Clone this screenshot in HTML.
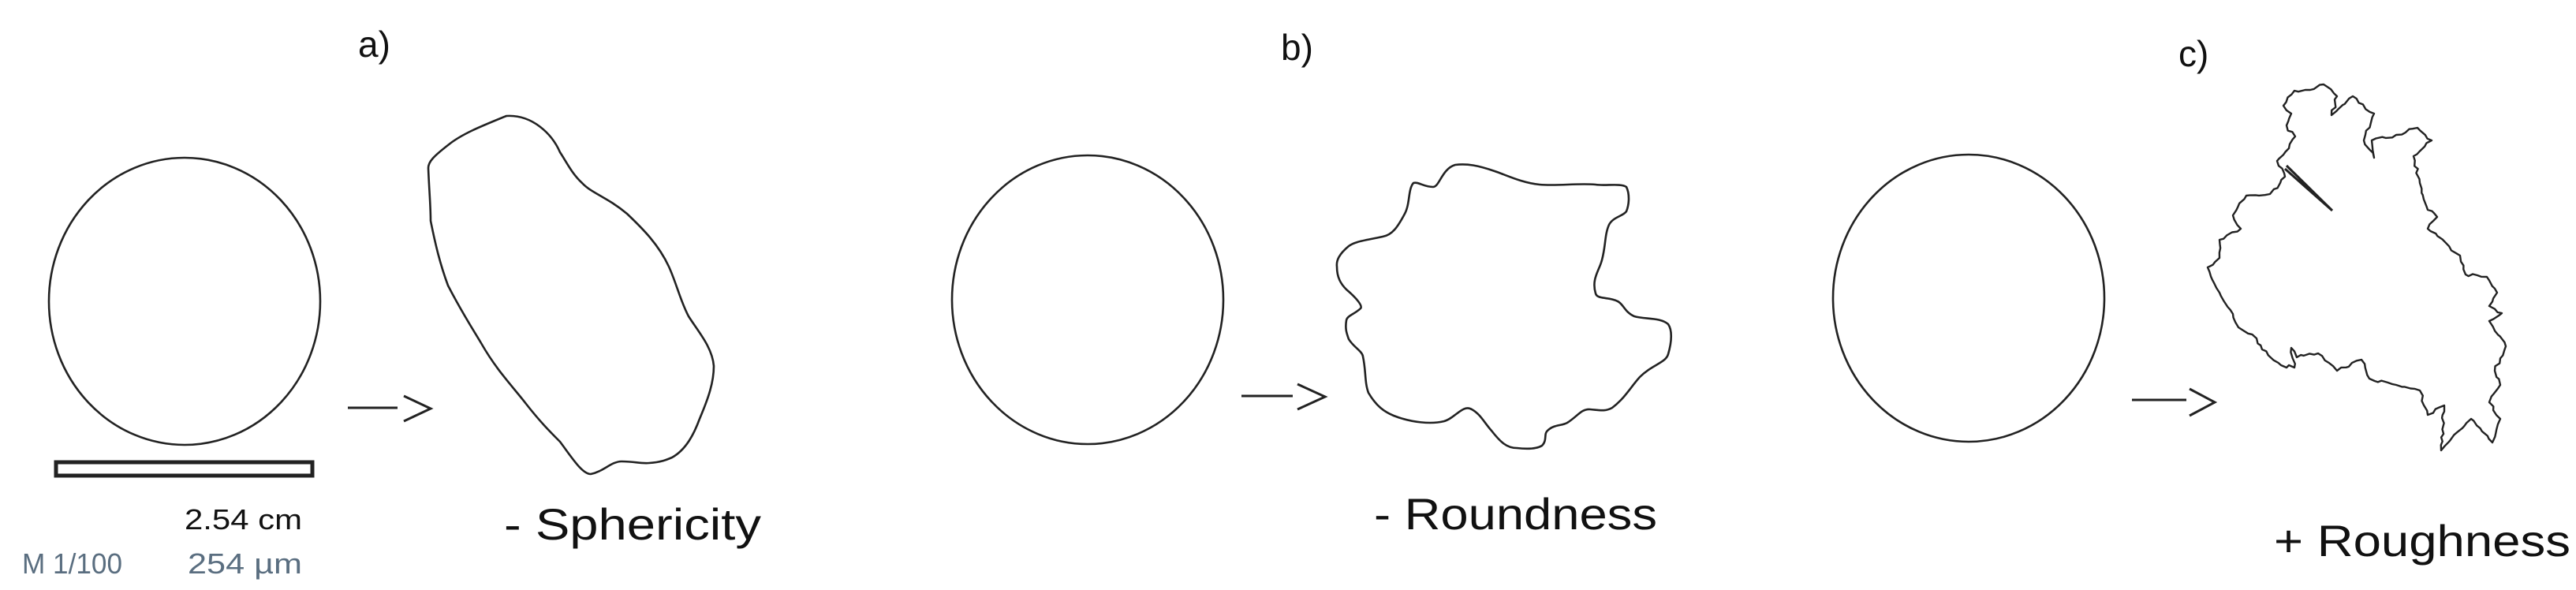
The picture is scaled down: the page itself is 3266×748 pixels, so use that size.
<!DOCTYPE html>
<html><head><meta charset="utf-8"><style>
html,body{margin:0;padding:0;background:#fff;}
svg{display:block;}
text{font-family:"Liberation Sans",sans-serif;}
</style></head><body>
<svg width="3266" height="748" viewBox="0 0 3266 748" xmlns="http://www.w3.org/2000/svg">
<g fill="none" stroke="#222" stroke-width="2.6">
<!-- a -->
<ellipse cx="234" cy="382" rx="172" ry="182"/>
<rect x="71" y="586" width="325" height="17" stroke-width="5"/>
<path d="M441 517 H504 M512 502 L546 518 L512 534" stroke-width="3"/>
<path d="M642 147 C610 160 585 170 568 184 C550 198 543 205 543 213 C544 240 546 260 546 280 C552 310 558 335 568 362 C585 395 598 415 610 435 C630 470 650 490 667 512 C685 535 698 548 710 560 C725 580 738 601 749 601 C765 598 775 585 788 585 C805 585 812 588 823 587 C838 586 845 583 852 580 C870 570 880 550 887 531 C898 505 905 485 905 464 C903 440 885 420 873 401 C862 380 858 360 848 338 C835 310 815 290 795 271 C770 250 750 245 738 232 C725 220 718 205 710 193 C700 170 675 145 642 147 Z"/>
<!-- b -->
<ellipse cx="1379" cy="380" rx="172" ry="183"/>
<path d="M1574 502 H1639 M1645 487 L1680 503 L1645 519" stroke-width="3"/>
<path d="M1845 209 C1828 214 1825 237 1817 237 C1805 237 1798 230 1792 232 C1785 240 1788 258 1781 271 C1772 288 1765 298 1753 300 C1730 305 1718 306 1710 312 C1698 322 1694 330 1695 338 C1695 352 1700 360 1707 367 C1720 378 1728 388 1725 391 C1718 398 1708 400 1707 406 C1705 418 1708 424 1710 430 C1716 440 1727 445 1728 452 C1732 470 1730 485 1735 498 C1745 515 1755 522 1767 527 C1790 536 1815 538 1831 534 C1845 530 1855 512 1866 519 C1877 525 1882 536 1891 546 C1902 560 1910 568 1923 568 C1940 570 1950 568 1955 565 C1962 558 1957 550 1962 546 C1970 538 1980 540 1987 536 C2000 528 2005 518 2016 519 C2028 520 2035 522 2044 517 C2060 505 2068 490 2079 478 C2095 462 2112 460 2115 449 C2120 432 2120 418 2115 411 C2105 402 2085 405 2072 401 C2060 396 2058 385 2051 382 C2040 376 2025 380 2023 372 C2018 355 2026 345 2030 333 C2036 315 2034 298 2040 285 C2045 275 2058 274 2062 268 C2066 258 2066 245 2062 237 C2055 232 2035 236 2023 234 C2000 232 1975 236 1952 234 C1930 232 1910 222 1895 217 C1875 210 1860 207 1845 209 Z"/>
<!-- c -->
<ellipse cx="2496" cy="378" rx="172" ry="182"/>
<path d="M2703 507 H2772 M2776 493 L2808 510 L2776 527" stroke-width="3"/>
<path id="rough" stroke-width="2.4" stroke-linejoin="round"/>
<path d="M2897 214 L2957 267 L2899 210" stroke-width="3"/>
</g>
<text x="454" y="72" font-size="46" fill="#111">a)</text>
<text x="1624" y="76" font-size="46" fill="#111">b)</text>
<text x="2762" y="84" font-size="46" fill="#111">c)</text>
<text x="234" y="671" font-size="36" fill="#111" textLength="149" lengthAdjust="spacingAndGlyphs">2.54 cm</text>
<text x="28" y="727" font-size="36" fill="#5a6e80" textLength="127" lengthAdjust="spacingAndGlyphs">M 1/100</text>
<text x="238" y="727" font-size="36" fill="#5a6e80" textLength="145" lengthAdjust="spacingAndGlyphs">254 µm</text>
<text x="639" y="684" font-size="56" fill="#111" textLength="326" lengthAdjust="spacingAndGlyphs">- Sphericity</text>
<text x="1742" y="671" font-size="56" fill="#111" textLength="359" lengthAdjust="spacingAndGlyphs">- Roundness</text>
<text x="2883" y="705" font-size="56" fill="#111" textLength="376" lengthAdjust="spacingAndGlyphs">+ Roughness</text>
</svg>
<script>
(function(){
var p=[[2895,134],[2909,115],[2929,114],[2946,107],[2963,122],[2956,146],[2983,122],[3010,144],[2997,178],[3010,200],[3007,178],[3038,171],[3065,162],[3083,178],[3060,198],[3068,232],[3078,266],[3090,275],[3078,290],[3119,324],[3126,348],[3153,351],[3166,371],[3156,388],[3172,397],[3156,407],[3177,439],[3163,470],[3170,488],[3156,510],[3170,531],[3160,561],[3133,531],[3095,571],[3099,514],[3078,526],[3068,495],[3038,488],[3004,480],[2994,456],[2963,470],[2939,448],[2912,453],[2905,441],[2909,466],[2892,463],[2868,443],[2861,429],[2838,415],[2831,398],[2814,371],[2799,339],[2814,327],[2814,304],[2841,290],[2831,273],[2848,248],[2878,246],[2897,224],[2887,204],[2902,188],[2910,173],[2899,159],[2905,144]];
var s=7;function r(){s=(s*9301+49297)%233280;return s/233280-0.5;}
var d="";
for(var i=0;i<p.length;i++){var a=p[i],b=p[(i+1)%p.length];
var L=Math.hypot(b[0]-a[0],b[1]-a[1]);var n=Math.max(1,Math.round(L/6));
for(var k=0;k<n;k++){var t=k/n;var x=a[0]+(b[0]-a[0])*t,y=a[1]+(b[1]-a[1])*t;
if(k>0){x+=r()*4;y+=r()*4;}
d+=(d?"L":"M")+x.toFixed(1)+" "+y.toFixed(1);}}
d+="Z";
document.getElementById("rough").setAttribute("d",d);
})();
</script>
</body></html>
